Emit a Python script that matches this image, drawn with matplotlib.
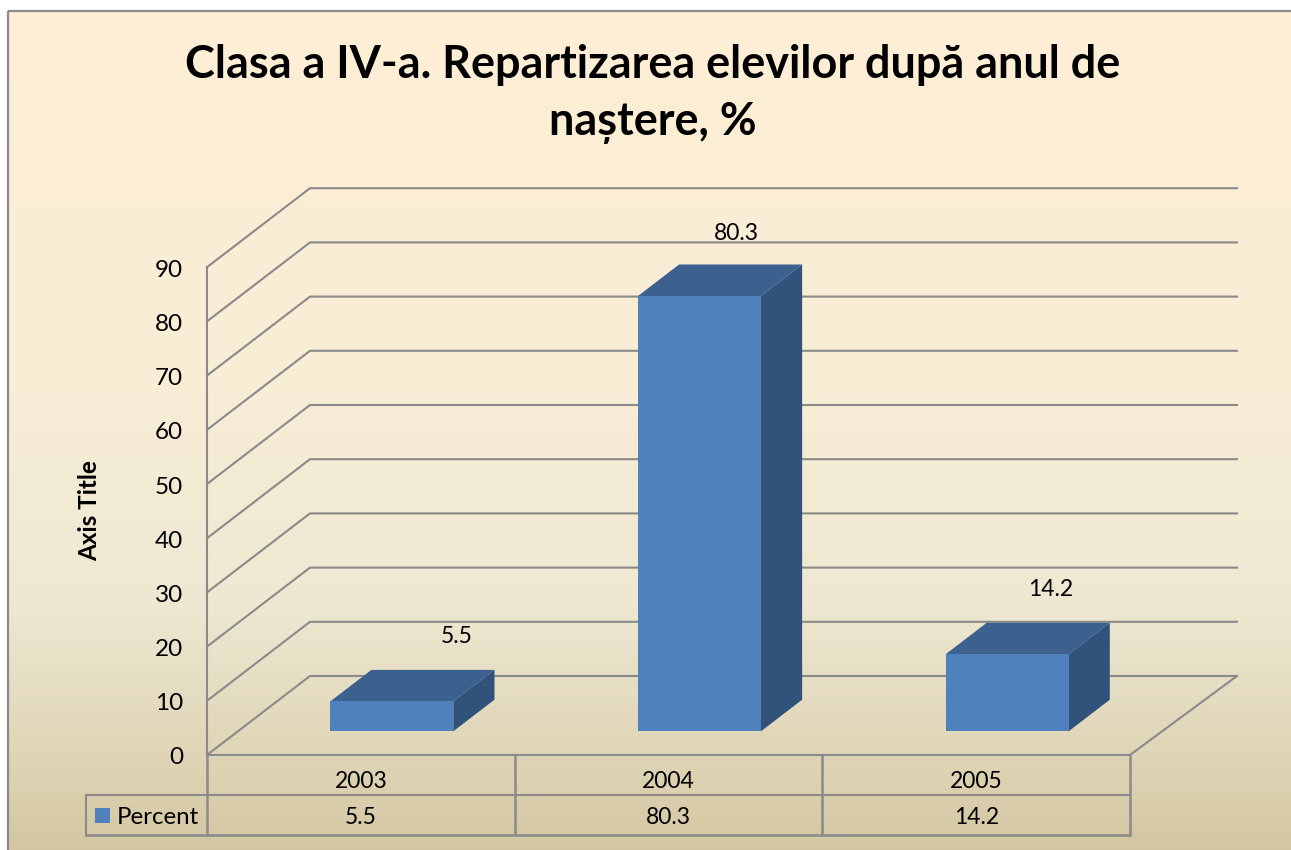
import numpy as np
import matplotlib.pyplot as plt
from matplotlib.colors import LinearSegmentedColormap
from matplotlib.patches import Polygon, Rectangle

plt.rcParams['font.family'] = ['Lato', 'DejaVu Sans']

# Data
years = ["2003", "2004", "2005"]
percent = [5.5, 80.3, 14.2]
y_ticks = [0, 10, 20, 30, 40, 50, 60, 70, 80, 90]
title = "Clasa a IV-a. Repartizarea elevilor după anul de\nnaștere, %"

# Layout of the fake 3D box, in pixels
x0, y0 = 207, 755
cat_w = 307.67
unit = 5.42
back_dx, back_dy = 103, -79
back_right = 1237
line_col = "#8A8A8A"


def proj(c, v, d=0.0):
    # category pos, value, depth (0 front, 1 back) -> pixel
    return x0 + c * cat_w + d * back_dx, y0 - v * unit + d * back_dy


fig = plt.figure(figsize=(12.91, 8.5), dpi=100)
ax = fig.add_axes([0, 0, 1, 1])
ax.set_xlim(0, 1291)
ax.set_ylim(850, 0)
ax.axis("off")

# Background gradient
cmap = LinearSegmentedColormap.from_list("bg", [
    (0.0, "#FEEFD5"), (0.45, "#F8EDD6"), (0.7, "#EEE8D2"), (0.88, "#DFD5B6"), (1.0, "#D2C49F")])
grad = np.linspace(0, 1, 256).reshape(-1, 1)
ax.imshow(grad, cmap=cmap, extent=(8, 1300, 860, 11), aspect="auto", zorder=0)
ax.set_xlim(0, 1291)
ax.set_ylim(850, 0)
ax.add_patch(Rectangle((8, 11), 1300, 850, fill=False, ec=line_col, lw=1.6, zorder=1))

# Walls and gridlines
for v in y_ticks:
    a = proj(0, v, 0)
    b = proj(0, v, 1)
    ax.plot([a[0], b[0], back_right], [a[1], b[1], b[1]], color=line_col, lw=1.5, zorder=2)
    ax.text(a[0] - 24, a[1] + 3, str(v), ha="right", va="center", fontsize=17.5, color="black", zorder=6)

top = proj(0, y_ticks[-1])
ax.plot([x0, top[0]], [y0, top[1]], color=line_col, lw=1.5, zorder=2)
fr = proj(3, 0, 0)
br = proj(3, 0, 1)
ax.plot([x0, fr[0], back_right], [y0, fr[1], br[1]], color=line_col, lw=1.5, zorder=2)

# Bars
bar_w = 0.4
d1, d2 = 0.3, 0.7
for i, v in enumerate(percent):
    l, r = i + 0.5 - bar_w / 2, i + 0.5 + bar_w / 2
    ax.add_patch(Polygon([proj(l, v, d1), proj(r, v, d1), proj(r, v, d2), proj(l, v, d2)],
                         fc="#3D618F", ec="none", zorder=3))
    ax.add_patch(Polygon([proj(r, 0, d1), proj(r, v, d1), proj(r, v, d2), proj(r, 0, d2)],
                         fc="#31527B", ec="none", zorder=3))
    ax.add_patch(Polygon([proj(l, 0, d1), proj(r, 0, d1), proj(r, v, d1), proj(l, v, d1)],
                         fc="#4F81BD", ec="none", zorder=4))

# Data labels (moved by hand in the original)
label_dx = [65, 37, 44]
label_dy = [-65, -63, -65]
for i, v in enumerate(percent):
    px, py = proj(i + 0.5, v, d1)
    ax.text(px + label_dx[i], py + label_dy[i], str(v), ha="center", va="center", fontsize=16.5, color="black", zorder=6)

# Data table
row1, row2 = y0 + 40, y0 + 80
table_left = 86
ax.plot([x0, x0], [y0, row2], color=line_col, lw=1.8, zorder=2)
ax.plot([table_left, fr[0]], [row1, row1], color=line_col, lw=1.5, zorder=2)
ax.plot([table_left, fr[0]], [row2, row2], color=line_col, lw=1.8, zorder=2)
ax.plot([table_left, table_left], [row1, row2], color=line_col, lw=1.5, zorder=2)
for i in range(1, 4):
    px = proj(i, 0)[0]
    ax.plot([px, px], [y0, row2], color=line_col, lw=1.8, zorder=2)
for i, year in enumerate(years):
    px = proj(i + 0.5, 0)[0]
    ax.text(px, y0 + 26, year, ha="center", va="center", fontsize=16.5, color="black", zorder=6)
    ax.text(px, row1 + 22, str(percent[i]), ha="center", va="center", fontsize=16.5, color="black", zorder=6)
ax.add_patch(Rectangle((95, row1 + 13), 15, 15, fc="#4F81BD", ec="none", zorder=4))
ax.text(117, row1 + 22, "Percent", ha="left", va="center", fontsize=17.3, color="black", zorder=6)

# Titles
ax.text(653, 94, title, ha="center", va="center", fontsize=32.4, fontweight="bold", color="black",
        linespacing=1.47, zorder=6)
ax.text(90, 511, "Axis Title", rotation=90, ha="center", va="center", fontsize=17.5, fontweight="bold",
        color="black", zorder=6)

plt.savefig("out.png", dpi=100)
